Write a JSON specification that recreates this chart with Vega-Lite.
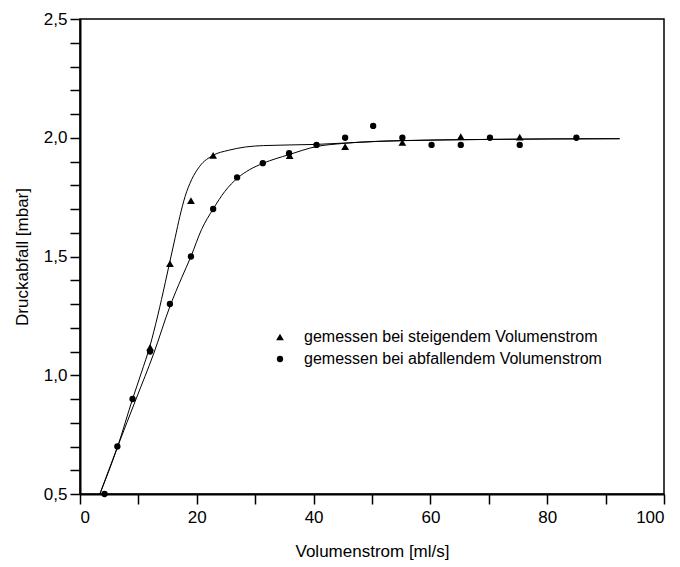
{
  "$schema": "https://vega.github.io/schema/vega-lite/v6.json",
  "autosize": "none",
  "width": 584,
  "height": 475,
  "padding": {"left": 80, "top": 19, "right": 16, "bottom": 73},
  "background": "white",
  "config": {
    "font": "Liberation Sans",
    "view": {"stroke": "black", "strokeWidth": 1.5},
    "axis": {
      "grid": false,
      "domainColor": "black",
      "domainWidth": 2,
      "tickColor": "black",
      "tickWidth": 1.5,
      "tickSize": 10,
      "labelFont": "Liberation Sans",
      "labelFontSize": 17,
      "labelColor": "black",
      "titleFont": "Liberation Sans",
      "titleFontSize": 17,
      "titleFontWeight": "normal",
      "titleColor": "black"
    }
  },
  "datasets": {
    "meas": [
      {"serie": "gemessen bei steigendem Volumenstrom", "x": 12.0, "y": 1.117},
      {"serie": "gemessen bei steigendem Volumenstrom", "x": 15.4, "y": 1.47},
      {"serie": "gemessen bei steigendem Volumenstrom", "x": 19.0, "y": 1.735},
      {"serie": "gemessen bei steigendem Volumenstrom", "x": 22.8, "y": 1.926},
      {"serie": "gemessen bei steigendem Volumenstrom", "x": 35.9, "y": 1.925},
      {"serie": "gemessen bei steigendem Volumenstrom", "x": 45.4, "y": 1.963},
      {"serie": "gemessen bei steigendem Volumenstrom", "x": 55.2, "y": 1.98},
      {"serie": "gemessen bei steigendem Volumenstrom", "x": 65.2, "y": 2.005},
      {"serie": "gemessen bei steigendem Volumenstrom", "x": 75.3, "y": 2.003},
      {"serie": "gemessen bei abfallendem Volumenstrom", "x": 4.2, "y": 0.5},
      {"serie": "gemessen bei abfallendem Volumenstrom", "x": 6.4, "y": 0.7},
      {"serie": "gemessen bei abfallendem Volumenstrom", "x": 9.0, "y": 0.9},
      {"serie": "gemessen bei abfallendem Volumenstrom", "x": 12.0, "y": 1.1},
      {"serie": "gemessen bei abfallendem Volumenstrom", "x": 15.4, "y": 1.3},
      {"serie": "gemessen bei abfallendem Volumenstrom", "x": 19.0, "y": 1.5},
      {"serie": "gemessen bei abfallendem Volumenstrom", "x": 22.8, "y": 1.7},
      {"serie": "gemessen bei abfallendem Volumenstrom", "x": 26.9, "y": 1.833},
      {"serie": "gemessen bei abfallendem Volumenstrom", "x": 31.3, "y": 1.893},
      {"serie": "gemessen bei abfallendem Volumenstrom", "x": 35.8, "y": 1.935},
      {"serie": "gemessen bei abfallendem Volumenstrom", "x": 40.5, "y": 1.97},
      {"serie": "gemessen bei abfallendem Volumenstrom", "x": 45.4, "y": 2.0},
      {"serie": "gemessen bei abfallendem Volumenstrom", "x": 50.2, "y": 2.05},
      {"serie": "gemessen bei abfallendem Volumenstrom", "x": 55.2, "y": 2.0},
      {"serie": "gemessen bei abfallendem Volumenstrom", "x": 60.2, "y": 1.97},
      {"serie": "gemessen bei abfallendem Volumenstrom", "x": 65.2, "y": 1.97},
      {"serie": "gemessen bei abfallendem Volumenstrom", "x": 70.2, "y": 2.0},
      {"serie": "gemessen bei abfallendem Volumenstrom", "x": 75.3, "y": 1.97},
      {"serie": "gemessen bei abfallendem Volumenstrom", "x": 85.0, "y": 2.0}
    ],
    "fit": [
      {"kurve": "steigend", "x": 3.4, "y": 0.5},
      {"kurve": "steigend", "x": 6.45, "y": 0.7},
      {"kurve": "steigend", "x": 9.0, "y": 0.9},
      {"kurve": "steigend", "x": 10.5, "y": 1.01},
      {"kurve": "steigend", "x": 12.0, "y": 1.125},
      {"kurve": "steigend", "x": 13.3, "y": 1.25},
      {"kurve": "steigend", "x": 14.6, "y": 1.39},
      {"kurve": "steigend", "x": 15.4, "y": 1.48},
      {"kurve": "steigend", "x": 16.3, "y": 1.58},
      {"kurve": "steigend", "x": 17.1, "y": 1.669},
      {"kurve": "steigend", "x": 18.0, "y": 1.753},
      {"kurve": "steigend", "x": 19.1, "y": 1.823},
      {"kurve": "steigend", "x": 20.5, "y": 1.88},
      {"kurve": "steigend", "x": 22.8, "y": 1.926},
      {"kurve": "steigend", "x": 25.4, "y": 1.947},
      {"kurve": "steigend", "x": 28.3, "y": 1.961},
      {"kurve": "steigend", "x": 31.4, "y": 1.967},
      {"kurve": "steigend", "x": 40.5, "y": 1.972},
      {"kurve": "steigend", "x": 51.4, "y": 1.985},
      {"kurve": "steigend", "x": 60.0, "y": 1.99},
      {"kurve": "steigend", "x": 70.0, "y": 1.993},
      {"kurve": "steigend", "x": 80.0, "y": 1.995},
      {"kurve": "steigend", "x": 92.4, "y": 1.996},
      {"kurve": "abfallend", "x": 3.4, "y": 0.5},
      {"kurve": "abfallend", "x": 6.45, "y": 0.7},
      {"kurve": "abfallend", "x": 9.6, "y": 0.9},
      {"kurve": "abfallend", "x": 12.6, "y": 1.09},
      {"kurve": "abfallend", "x": 15.4, "y": 1.29},
      {"kurve": "abfallend", "x": 17.4, "y": 1.41},
      {"kurve": "abfallend", "x": 19.0, "y": 1.5},
      {"kurve": "abfallend", "x": 20.8, "y": 1.613},
      {"kurve": "abfallend", "x": 22.8, "y": 1.7},
      {"kurve": "abfallend", "x": 24.8, "y": 1.774},
      {"kurve": "abfallend", "x": 27.0, "y": 1.831},
      {"kurve": "abfallend", "x": 29.0, "y": 1.865},
      {"kurve": "abfallend", "x": 31.3, "y": 1.892},
      {"kurve": "abfallend", "x": 35.8, "y": 1.929},
      {"kurve": "abfallend", "x": 40.5, "y": 1.963},
      {"kurve": "abfallend", "x": 45.0, "y": 1.976},
      {"kurve": "abfallend", "x": 55.0, "y": 1.988},
      {"kurve": "abfallend", "x": 70.0, "y": 1.993},
      {"kurve": "abfallend", "x": 92.4, "y": 1.996}
    ]
  },
  "layer": [
    {
      "data": {"name": "fit"},
      "mark": {"type": "line", "color": "black", "strokeWidth": 1, "interpolate": "monotone", "clip": true},
      "encoding": {
        "x": {
          "field": "x", "type": "quantitative",
          "scale": {"domain": [0, 100], "nice": false, "zero": false},
          "axis": {
            "title": "Volumenstrom [ml/s]",
            "values": [0, 10, 20, 30, 40, 50, 60, 70, 80, 90, 100],
            "tickCount": 30,
            "labelOverlap": false,
            "labelExpr": "datum.value % 20 == 0 ? format(datum.value, 'd') : ''",
            "encode": {"ticks": {"update": {"y2": {"signal": "datum.value % 20 == 0 ? 10 : 5"}}}},
            "labelPadding": 5,
            "titlePadding": 18
          }
        },
        "y": {
          "field": "y", "type": "quantitative",
          "scale": {"domain": [0.5, 2.5], "nice": false, "zero": false},
          "axis": {
            "title": "Druckabfall [mbar]",
            "values": [0.5, 0.6, 0.7, 0.8, 0.9, 1.0, 1.1, 1.2, 1.3, 1.4, 1.5, 1.6, 1.7, 1.8, 1.9, 2.0, 2.1, 2.2, 2.3, 2.4, 2.5],
            "tickCount": 30,
            "format": ".1f",
            "labelOverlap": false,
            "labelExpr": "indexof(['0.5', '1.0', '1.5', '2.0', '2.5'], datum.label) >= 0 ? replace(datum.label, '.', ',') : ''",
            "encode": {"ticks": {"update": {"x2": {"signal": "indexof(['0.5', '1.0', '1.5', '2.0', '2.5'], format(datum.value, '.1f')) >= 0 ? -10 : -5"}}}},
            "labelPadding": 3,
            "titlePadding": 12
          }
        },
        "detail": {"field": "kurve"},
        "order": {"field": "x", "type": "quantitative"}
      }
    },
    {
      "data": {"name": "meas"},
      "mark": {"type": "point", "filled": true, "opacity": 1, "color": "black"},
      "encoding": {
        "x": {"field": "x", "type": "quantitative"},
        "y": {"field": "y", "type": "quantitative"},
        "size": {
          "field": "serie", "type": "nominal",
          "scale": {
            "domain": ["gemessen bei steigendem Volumenstrom", "gemessen bei abfallendem Volumenstrom"],
            "range": [60, 40]
          },
          "legend": {
            "title": null,
            "orient": "none",
            "legendX": 192,
            "legendY": 310,
            "padding": 0,
            "labelFont": "Liberation Sans",
            "labelFontSize": 16,
            "labelColor": "black",
            "labelOffset": 16,
            "labelLimit": 400,
            "rowPadding": 6,
            "symbolFillColor": "black",
            "symbolStrokeColor": "black",
            "symbolStrokeWidth": 0
          }
        },
        "shape": {
          "field": "serie", "type": "nominal",
          "scale": {
            "domain": ["gemessen bei steigendem Volumenstrom", "gemessen bei abfallendem Volumenstrom"],
            "range": ["triangle-up", "circle"]
          },
          "legend": {
            "title": null,
            "orient": "none",
            "legendX": 192,
            "legendY": 310,
            "padding": 0,
            "labelFont": "Liberation Sans",
            "labelFontSize": 16,
            "labelColor": "black",
            "labelOffset": 16,
            "labelLimit": 400,
            "rowPadding": 6,
            "symbolFillColor": "black",
            "symbolStrokeColor": "black",
            "symbolStrokeWidth": 0
          }
        }
      }
    }
  ]
}
